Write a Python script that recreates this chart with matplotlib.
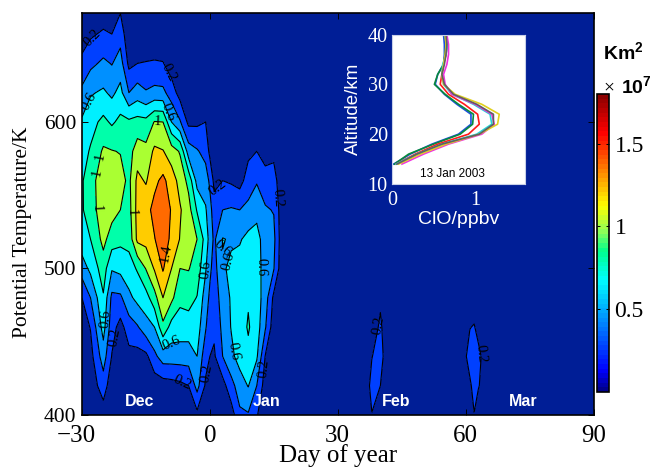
import matplotlib
matplotlib.use('Agg')
import matplotlib.pyplot as plt
import numpy as np
from matplotlib.colors import LinearSegmentedColormap, Normalize
from matplotlib.cm import ScalarMappable
from matplotlib.transforms import ScaledTranslation

plt.rcParams['font.family'] = 'Liberation Serif'
plt.rcParams['mathtext.fontset'] = 'custom'
plt.rcParams['mathtext.bf'] = 'Liberation Sans:bold'
plt.rcParams['mathtext.rm'] = 'Liberation Sans:bold'

# vortex area (1e7 km2)
theta = [400, 420, 440, 460, 480, 500, 520, 540, 560, 580, 600, 620, 640, 660, 680]
days = [-30, -28, -25, -23, -21, -19, -17, -15, -13, -11, -9, -7, -5, -3, -1, 0, 1, 3, 5, 7, 9, 11, 13, 15, 17,
        36.5, 38, 40, 41.5, 59, 61, 62, 63, 65, 90]
area_by_day = [
    [.05, .05, .05, .10, .20, .50, .72, .78, .78, .72, .63, .45, .25, .10, .05],
    [.05, .08, .13, .21, .40, .65, .80, .90, .92, .82, .73, .58, .35, .17, .05],
    [.10, .30, .50, .68, .78, .90, 1.06, 1.12, 1.12, 1.03, .85, .63, .44, .23, .05],
    [.03, .08, .19, .28, .35, .62, .90, 1.08, 1.10, 1.01, .77, .56, .39, .20, .05],
    [.03, .04, .06, .13, .36, .66, .85, 1.00, 1.08, .99, .85, .66, .49, .32, .15],
    [.03, .05, .14, .30, .55, .72, .86, .92, .95, .92, .84, .40, .15, .05, .03],
    [.03, .05, .12, .38, .66, .82, 1.25, 1.27, 1.25, 1.10, .87, .50, .20, .05, .03],
    [.03, .06, .15, .52, .72, 1.01, 1.27, 1.33, 1.18, 1.06, .86, .42, .21, .05, .03],
    [.03, .08, .35, .60, .92, 1.22, 1.39, 1.46, 1.35, 1.24, 1.01, .46, .22, .05, .03],
    [.03, .10, .50, .95, 1.20, 1.42, 1.52, 1.55, 1.45, 1.21, 1.00, .45, .21, .05, .03],
    [.03, .12, .50, .72, 1.05, 1.20, 1.35, 1.38, 1.30, 1.10, .60, .30, .10, .03, .03],
    [.03, .15, .50, .70, .85, 1.00, 1.19, 1.22, 1.13, .98, .42, .12, .03, .03, .03],
    [.03, .20, .50, .70, .88, 1.01, 1.12, 1.08, .94, .50, .15, .03, .03, .03, .03],
    [.15, .47, .60, .70, .79, .92, 1.00, .78, .53, .42, .16, .03, .03, .03, .03],
    [.03, .17, .27, .42, .50, .62, .72, .62, .50, .33, .20, .03, .03, .03, .03],
    [.03, .08, .20, .27, .36, .44, .52, .48, .36, .15, .03, .03, .03, .03, .03],
    [.03, .08, .17, .24, .28, .32, .36, .28, .15, .03, .03, .03, .03, .03, .03],
    [.03, .12, .40, .45, .50, .58, .61, .40, .20, .03, .03, .03, .03, .03, .03],
    [.10, .33, .55, .61, .62, .63, .58, .42, .17, .03, .03, .03, .03, .03, .03],
    [.36, .50, .68, .70, .72, .68, .58, .40, .12, .03, .03, .03, .03, .03, .03],
    [.38, .61, .75, .82, .78, .72, .66, .45, .30, .15, .03, .03, .03, .03, .03],
    [.22, .40, .63, .70, .70, .68, .66, .55, .38, .20, .03, .03, .03, .03, .03],
    [.03, .10, .19, .42, .50, .52, .52, .42, .30, .10, .03, .03, .03, .03, .03],
    [.03, .03, .05, .08, .15, .41, .45, .39, .28, .15, .03, .03, .03, .03, .03],
    [.03, .03, .03, .03, .03, .05, .06, .06, .05, .03, .03, .03, .03, .03, .03],
    [.03, .03, .03, .03, .03, .03, .03, .03, .03, .03, .03, .03, .03, .03, .03],
    [.19, .30, .19, .05, .03, .03, .03, .03, .03, .03, .03, .03, .03, .03, .03],
    [.03, .20, .33, .25, .15, .03, .03, .03, .03, .03, .03, .03, .03, .03, .03],
    [.03, .03, .03, .03, .03, .03, .03, .03, .03, .03, .03, .03, .03, .03, .03],
    [.03, .03, .03, .03, .03, .03, .03, .03, .03, .03, .03, .03, .03, .03, .03],
    [.03, .15, .32, .19, .03, .03, .03, .03, .03, .03, .03, .03, .03, .03, .03],
    [.19, .30, .35, .22, .03, .03, .03, .03, .03, .03, .03, .03, .03, .03, .03],
    [.03, .22, .28, .10, .03, .03, .03, .03, .03, .03, .03, .03, .03, .03, .03],
    [.03, .03, .03, .03, .03, .03, .03, .03, .03, .03, .03, .03, .03, .03, .03],
    [.03, .03, .03, .03, .03, .03, .03, .03, .03, .03, .03, .03, .03, .03, .03],
]
levels = [0, .2, .4, .6, .8, 1, 1.2, 1.4, 1.6]
fill_colors = ['#001e96', '#0040ff', '#0090ff', '#00f0ff', '#00ffaa', '#aaff32', '#ffcc00', '#ff6a00']
plain_levels = [.4, .8, 1.2]
label_levels = [.2, .6, 1, 1.4]
label_spots = [(-27, 654.6), (-9.8, 634), (-26.5, 611.6), (-9.4, 607), (-12.2, 599), (-24, 575), (-25.8, 565),
               (-26.2, 541), (-19, 538), (-10, 510), (-.5, 499), (3, 514), (5.4, 504), (11.7, 501), (-24, 466),
               (-22.7, 453), (-9.4, 451), (6.3, 444), (-1.6, 429), (14, 431), (-8.2, 412), (15.7, 548),
               (2.8, 553), (39.4, 461), (62.6, 441)]

months = ['Dec', 'Jan', 'Feb', 'Mar']
month_days = [-16.4, 13.4, 43.6, 73.4]

# inset: ClO profiles
altitude = [14, 16, 18, 20, 22, 24, 26, 28, 30, 32, 34, 36, 38, 40]
clo_blue = [.02, .22, .48, .80, .95, .95, .78, .63, .52, .55, .62, .63, .63, .62]
clo_green = [.03, .20, .50, .82, .97, .98, .80, .64, .51, .55, .62, .64, .65, .64]
clo_red = [.05, .28, .55, .92, 1.05, 1.03, .87, .68, .58, .60, .62, .65, .66, .65]
clo_cyan = [.05, .30, .60, 1.02, 1.20, 1.18, .98, .72, .62, .60, .61, .65, .67, .65]
clo_magenta = [.12, .38, .68, 1.08, 1.23, 1.20, 1.00, .72, .64, .62, .66, .68, .68, .66]
clo_yellow = [.08, .34, .65, 1.05, 1.27, 1.29, 1.08, .76, .62, .60, .62, .64, .65, .64]
clo_gray = [.06, .30, .60, 1.05, 1.22, 1.22, 1.02, .74, .63, .60, .63, .65, .66, .65]

W, H = 653, 468


def px_axes(x0, y0, x1, y1):
    return fig.add_axes([x0 / W, 1 - y1 / H, (x1 - x0) / W, (y1 - y0) / H])


fig = plt.figure(figsize=(W / 100, H / 100), dpi=100)

ax = px_axes(82, 13, 593.5, 415)
area = np.array(area_by_day).T
ax.contourf(days, theta, area, levels=levels, colors=fill_colors)
ax.contour(days, theta, area, levels=plain_levels, colors='k', linewidths=0.8)
cs = ax.contour(days, theta, area, levels=label_levels, colors='k', linewidths=0.8)
ax.clabel(cs, manual=label_spots, inline=False, fmt='%g', fontsize=10.5, colors='k')
ax.set_xlim(-30, 90)
ax.set_ylim(400, 674.4)
ax.set_xticks([-30, 0, 30, 60, 90])
ax.set_yticks([400, 500, 600])
ax.tick_params(direction='in', length=4, width=0.7, top=True, right=True, pad=4)
ax.tick_params(axis='x', labelsize=18, pad=7)
ax.tick_params(axis='y', labelsize=15.5)
ax.set_xlabel('Day of year', fontsize=18, labelpad=-2)
ax.set_ylabel('Potential Temperature/K', fontsize=15.5)
ax.yaxis.set_label_coords(-0.098, 0.455)
lab0 = ax.get_xticklabels()[0]
lab0.set_transform(lab0.get_transform() + ScaledTranslation(-0.06, 0, fig.dpi_scale_trans))
for s in ax.spines.values():
    s.set_linewidth(1.2)
for m, d in zip(months, month_days):
    ax.text(d, 409.5, m, color='white', family='Liberation Sans', weight='bold', fontsize=11.5,
            ha='center', va='center')

ins = px_axes(392, 34.5, 525, 184)
ins.set_facecolor('white')
for vals, c in [(clo_blue, '#1a4fe0'), (clo_green, '#0a8a3a'), (clo_red, '#ff1a1a'), (clo_cyan, '#20d8d8'),
                (clo_magenta, '#f030e0'), (clo_yellow, '#e0d020'), (clo_gray, '#606060')]:
    ins.plot(vals, altitude, color=c, lw=1.2)
ins.set_xlim(0, 1.6)
ins.set_ylim(10, 40)
ins.set_xticks([0, 1])
ins.set_yticks([10, 20, 30, 40])
ins.tick_params(colors='white', labelsize=14.5, length=0, pad=3)
ins.tick_params(axis='x', pad=5)
ins.set_xlabel('ClO/ppbv', color='white', family='Liberation Sans', fontsize=14, labelpad=1)
ins.set_ylabel('Altitude/km', color='white', family='Liberation Sans', fontsize=13.5, labelpad=4)
for s in ins.spines.values():
    s.set_color('#c8d0e8')
    s.set_linewidth(0.8)
ins.text(0.455, 0.07, '13 Jan 2003', transform=ins.transAxes, family='Liberation Sans', fontsize=8.5,
         ha='center', va='center')

# jet, with the greener stretch of the original bar
bar_stops = [(0, (0, 0, .55)), (.12, (0, 0, 1)), (.675, (0, 1, 1)), (.85, (0, 1, .55)), (.97, (.55, 1, .35)),
             (1.125, (1, 1, 0)), (1.575, (1, 0, 0)), (1.8, (.55, 0, 0))]
bar_cmap = LinearSegmentedColormap.from_list('bar', [(v / 1.8, c) for v, c in bar_stops], N=64)
cax = px_axes(597, 94, 609, 392)
cb = fig.colorbar(ScalarMappable(Normalize(0, 1.8), bar_cmap), cax=cax)
cb.set_ticks([.5, 1, 1.5], labels=['0.5', '1', '1.5'])
cax.tick_params(direction='in', length=2.5, width=0.7, labelsize=17, left=True, right=True, pad=4)
cb.outline.set_linewidth(1.2)

fig.text(603 / W, 1 - 52 / H, r'$\mathbf{Km^2}$', fontsize=14, va='center', ha='left')
fig.text(603 / W, 1 - 88 / H, '\u00d7', fontsize=14, va='center', ha='left')
fig.text(621 / W, 1 - 86 / H, r'$\mathbf{10^7}$', fontsize=14, va='center', ha='left')

fig.savefig('out.png', dpi=100)
